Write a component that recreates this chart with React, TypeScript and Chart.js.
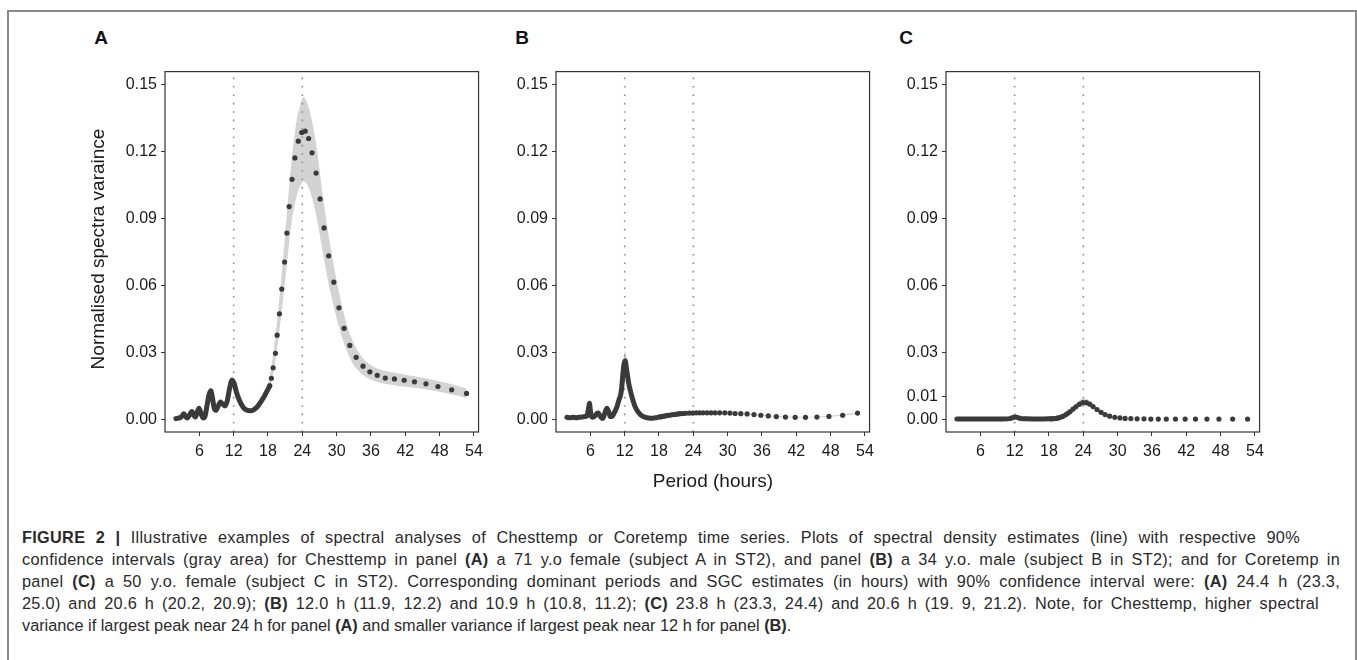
import React, { useEffect, useRef } from "react";
import { Chart, registerables } from "chart.js";

Chart.register(...registerables);

const FONT = "'Liberation Sans', Arial, Helvetica, sans-serif";

// ---- axes ----
const xTicks = [6, 12, 18, 24, 30, 36, 42, 48, 54];
const yTicksAB = [0, 0.03, 0.06, 0.09, 0.12, 0.15];
const yTicksC = [0, 0.01, 0.03, 0.06, 0.09, 0.12, 0.15];
const refLines = [12, 24];
const X_MIN = 0;
const X_MAX = 54.8;
const Y_MIN = -0.0057;
const Y_MAX = 0.1559;

// ---- sparse periods (hours), shared by the three panels ----
const sparsePeriods = [18.3, 18.6, 18.9, 19.3, 19.6, 20.0, 20.4, 20.9, 21.3, 21.7, 22.2, 22.7, 23.3, 23.9, 24.5, 25.1, 25.7, 26.4, 27.1, 27.8, 28.6, 29.5, 30.4, 31.3, 32.3, 33.4, 34.6, 35.8, 37.1, 38.5, 40.1, 41.8, 43.6, 45.6, 47.7, 50.1, 52.7];

// ---- Panel A ----
const denseXA = [1.9, 2.3, 2.7, 3.0, 3.3, 3.6, 3.9, 4.3, 4.7, 5.0, 5.3, 5.6, 5.95, 6.3, 6.7, 7.0, 7.4, 7.7, 8.0, 8.3, 8.6, 8.9, 9.3, 9.7, 10.1, 10.5, 10.9, 11.3, 11.7, 12.1, 12.5, 13.0, 13.5, 14.0, 14.8, 15.5, 16.2, 16.8, 17.4, 17.9, 18.3];
const denseYA = [0.0003, 0.0005, 0.0008, 0.0015, 0.0025, 0.0012, 0.0006, 0.0020, 0.0035, 0.0020, 0.0010, 0.0030, 0.0050, 0.0025, 0.0006, 0.0015, 0.0070, 0.0110, 0.0128, 0.0095, 0.0050, 0.0040, 0.0060, 0.0077, 0.0068, 0.0060, 0.0085, 0.0140, 0.0175, 0.0160, 0.0120, 0.0085, 0.0060, 0.0045, 0.0038, 0.0042, 0.0058, 0.0080, 0.0105, 0.0130, 0.0150];
const sparseA = [0.0150, 0.0184, 0.0231, 0.0296, 0.0377, 0.0473, 0.0584, 0.0705, 0.0835, 0.0954, 0.1076, 0.1172, 0.1247, 0.1286, 0.1292, 0.1259, 0.1195, 0.1104, 0.0988, 0.0858, 0.0733, 0.0615, 0.0500, 0.0408, 0.0331, 0.0278, 0.0238, 0.0213, 0.0197, 0.0185, 0.0181, 0.0175, 0.0168, 0.0159, 0.0147, 0.0132, 0.0116];
const bandXA = [11.0, 11.7, 12.5, 13.5, 14.8, 16.0, 17.0, 18.0, 19.0, 20.0, 21.0, 22.0, 23.0, 23.6, 24.2, 24.8, 25.5, 26.5, 27.5, 28.5, 29.5, 30.5, 31.5, 32.5, 33.5, 35.0, 37.0, 40.0, 45.0, 50.0, 52.7];
const bandLowA = [0.0105, 0.0150, 0.0105, 0.0050, 0.0032, 0.0048, 0.0080, 0.0115, 0.0215, 0.0400, 0.0620, 0.0860, 0.1000, 0.1045, 0.1066, 0.1055, 0.1010, 0.0905, 0.0760, 0.0620, 0.0505, 0.0405, 0.0325, 0.0265, 0.0225, 0.0192, 0.0168, 0.0153, 0.0137, 0.0112, 0.0095];
const bandHighA = [0.0145, 0.0192, 0.0140, 0.0075, 0.0050, 0.0068, 0.0110, 0.0160, 0.0310, 0.0545, 0.0830, 0.1130, 0.1340, 0.1405, 0.1445, 0.1420, 0.1360, 0.1220, 0.1020, 0.0840, 0.0690, 0.0560, 0.0450, 0.0370, 0.0315, 0.0262, 0.0228, 0.0210, 0.0186, 0.0158, 0.0138];

// ---- Panel B ----
const denseXB = [1.9, 2.5, 3.0, 3.5, 4.0, 4.5, 5.0, 5.4, 5.7, 5.85, 6.0, 6.2, 6.4, 6.8, 7.1, 7.4, 7.7, 8.0, 8.2, 8.5, 8.9, 9.2, 9.5, 9.8, 10.1, 10.4, 10.7, 11.0, 11.3, 11.5, 11.7, 11.9, 12.1, 12.3, 12.5, 12.7, 13.0, 13.3, 13.7, 14.2, 14.8, 15.5, 16.2, 16.9, 17.5, 18.0, 18.3];
const denseYB = [0.0009, 0.0007, 0.0009, 0.0007, 0.0009, 0.0010, 0.0012, 0.0015, 0.0050, 0.0072, 0.0040, 0.0012, 0.0009, 0.0015, 0.0025, 0.0028, 0.0015, 0.0005, 0.0004, 0.0025, 0.0050, 0.0035, 0.0012, 0.0012, 0.0025, 0.0040, 0.0060, 0.0087, 0.0110, 0.0145, 0.0206, 0.0250, 0.0262, 0.0231, 0.0197, 0.0162, 0.0128, 0.0098, 0.0065, 0.0038, 0.0020, 0.0010, 0.0006, 0.0005, 0.0007, 0.0010, 0.0011];
const sparseB = [0.0011, 0.0013, 0.0014, 0.0016, 0.0018, 0.0019, 0.0021, 0.0022, 0.0024, 0.0025, 0.0026, 0.0027, 0.0028, 0.0028, 0.0029, 0.0029, 0.0029, 0.0029, 0.0029, 0.0029, 0.0029, 0.0029, 0.0028, 0.0026, 0.0025, 0.0024, 0.0021, 0.0018, 0.0015, 0.0012, 0.0010, 0.0009, 0.0009, 0.0010, 0.0013, 0.0018, 0.0028];
const bandXB = [11.0, 11.5, 11.9, 12.1, 12.4, 12.8, 13.3, 14.0, 16.0, 20.0, 24.0, 30.0, 36.0, 42.0, 48.0, 52.7];
const bandLowB = [0.0075, 0.0125, 0.0215, 0.0228, 0.0195, 0.0140, 0.0085, 0.0040, 0.0005, 0.0017, 0.0025, 0.0025, 0.0015, 0.0007, 0.0011, 0.0024];
const bandHighB = [0.0100, 0.0168, 0.0290, 0.0305, 0.0260, 0.0180, 0.0112, 0.0055, 0.0008, 0.0022, 0.0032, 0.0032, 0.0020, 0.0011, 0.0016, 0.0032];

// ---- Panel C ----
const denseXC = [1.9, 4.0, 6.0, 8.0, 10.0, 11.2, 11.7, 12.1, 12.6, 13.2, 14.0, 16.0, 18.0, 18.3];
const denseYC = [0.0001, 0.0001, 0.0001, 0.0001, 0.0001, 0.0003, 0.0008, 0.0010, 0.0007, 0.0003, 0.0002, 0.0001, 0.0002, 0.0002];
const sparseC = [0.0002, 0.0002, 0.0003, 0.0004, 0.0006, 0.0009, 0.0013, 0.0020, 0.0027, 0.0035, 0.0046, 0.0056, 0.0067, 0.0075, 0.0075, 0.0068, 0.0057, 0.0044, 0.0031, 0.0021, 0.0014, 0.0009, 0.0006, 0.0004, 0.0003, 0.0002, 0.0002, 0.0001, 0.0001, 0.0001, 0.0001, 0.0001, 0.0001, 0.0001, 0.0001, 0.0001, 0.0001];
const bandXC = [20, 21, 22, 23, 24, 25, 26, 27, 28, 29, 30];
const bandLowC = [0.0007, 0.0019, 0.0036, 0.0053, 0.0062, 0.0058, 0.0043, 0.0026, 0.0015, 0.0009, 0.0005];
const bandHighC = [0.0011, 0.0028, 0.0052, 0.0078, 0.0093, 0.0085, 0.0063, 0.0037, 0.0022, 0.0013, 0.0007];

// ---- texts ----
const panelLabels = ["A", "B", "C"];
const yTitle = "Normalised spectra varaince";
const xTitle = "Period (hours)";
type Seg = [string, boolean];
const captionLines: Seg[][] = [
  [["FIGURE 2 |", true], [" Illustrative examples of spectral analyses of Chesttemp or Coretemp time series. Plots of spectral density estimates (line) with respective 90%", false]],
  [["confidence intervals (gray area) for Chesttemp in panel ", false], ["(A)", true], [" a 71 y.o female (subject A in ST2), and panel ", false], ["(B)", true], [" a 34 y.o. male (subject B in ST2); and for Coretemp in", false]],
  [["panel ", false], ["(C)", true], [" a 50 y.o. female (subject C in ST2). Corresponding dominant periods and SGC estimates (in hours) with 90% confidence interval were: ", false], ["(A)", true], [" 24.4 h (23.3,", false]],
  [["25.0) and 20.6 h (20.2, 20.9); ", false], ["(B)", true], [" 12.0 h (11.9, 12.2) and 10.9 h (10.8, 11.2); ", false], ["(C)", true], [" 23.8 h (23.3, 24.4) and 20.6 h (19. 9, 21.2). Note, for Chesttemp, higher spectral", false]],
  [["variance if largest peak near 24 h for panel ", false], ["(A)", true], [" and smaller variance if largest peak near 12 h for panel ", false], ["(B)", true], [".", false]],
];
const captionWidths = [1278, 1318, 1318, 1297, 0];

const pts = (xs: number[], ys: number[]) => xs.map((x, i) => ({ x, y: ys[i] }));

const boxPlugin = {
  id: "panelBox",
  afterDatasetsDraw(chart: any) {
    const { ctx, chartArea: a } = chart;
    ctx.save();
    ctx.strokeStyle = "#333333";
    ctx.lineWidth = 1.2;
    ctx.strokeRect(a.left, a.top, a.right - a.left, a.bottom - a.top);
    ctx.restore();
  },
};

type PanelProps = {
  left: number;
  denseX: number[];
  denseY: number[];
  sparseY: number[];
  bandX: number[];
  bandLow: number[];
  bandHigh: number[];
  yTicks: number[];
};

const CW = 384;
const CH = 414;

function Panel(p: PanelProps) {
  const ref = useRef<HTMLCanvasElement | null>(null);
  useEffect(() => {
    if (!ref.current) return;
    const tickFont = { family: FONT, size: 16 };
    const grid = { display: true, drawOnChartArea: false, drawTicks: true, tickLength: 4, color: "#333333", lineWidth: 1 };
    const chart = new Chart(ref.current, {
      type: "line",
      data: {
        datasets: [
          { data: pts(p.bandX, p.bandHigh), borderWidth: 0, pointRadius: 0, fill: "+1", backgroundColor: "#d3d3d3", cubicInterpolationMode: "monotone", order: 4 } as any,
          { data: pts(p.bandX, p.bandLow), borderWidth: 0, pointRadius: 0, fill: false, cubicInterpolationMode: "monotone", order: 4 } as any,
          ...refLines.map((v) => ({
            data: [{ x: v, y: Y_MIN }, { x: v, y: Y_MAX }],
            borderColor: "#8c8c8c",
            borderWidth: 1.6,
            borderDash: [1.6, 6.8],
            pointRadius: 0,
            fill: false,
            order: 3,
          })),
          { data: pts(p.denseX, p.denseY), borderColor: "#3a3a3a", borderWidth: 5, pointRadius: 0, fill: false, cubicInterpolationMode: "monotone", borderCapStyle: "round", borderJoinStyle: "round", order: 2 } as any,
          { data: pts(sparsePeriods, p.sparseY), showLine: false, pointRadius: 2.6, pointBackgroundColor: "#3a3a3a", pointBorderWidth: 0, fill: false, order: 1 } as any,
        ],
      },
      options: {
        animation: false,
        responsive: false,
        maintainAspectRatio: false,
        events: [],
        layout: { padding: { top: 8, right: 8, left: 0, bottom: 0 } },
        plugins: { legend: { display: false }, tooltip: { enabled: false } },
        scales: {
          x: {
            type: "linear",
            min: X_MIN,
            max: X_MAX,
            afterBuildTicks: (s: any) => { s.ticks = xTicks.map((v) => ({ value: v })); },
            afterFit: (s: any) => { s.height = 40; },
            ticks: { font: tickFont, color: "#1a1a1a", padding: 6, maxRotation: 0, autoSkip: false, callback: (v: any) => String(v) },
            grid,
            border: { display: false },
          },
          y: {
            type: "linear",
            min: Y_MIN,
            max: Y_MAX,
            afterBuildTicks: (s: any) => { s.ticks = p.yTicks.map((v) => ({ value: v })); },
            afterFit: (s: any) => { s.width = 60; },
            ticks: { font: tickFont, color: "#1a1a1a", padding: 4, autoSkip: false, callback: (v: any) => Number(v).toFixed(2) },
            grid,
            border: { display: false },
          },
        },
      } as any,
      plugins: [boxPlugin],
    });
    return () => chart.destroy();
  }, []);
  return (
    <canvas
      ref={ref}
      width={CW}
      height={CH}
      style={{ position: "absolute", left: p.left, top: 58, width: CW, height: CH }}
    />
  );
}

export default function App() {
  const panelLeft = [105, 496, 886];
  const labelX = [101, 522, 906];
  return (
    <div style={{ position: "absolute", left: 0, top: 0, width: 1357, height: 660, overflow: "hidden", background: "#ffffff", fontFamily: FONT }}>
      <div style={{ position: "absolute", left: 7, top: 10, width: 1346, height: 700, border: "2px solid #8a8a8a" }} />
      {panelLabels.map((t, i) => (
        <div key={t} style={{ position: "absolute", left: labelX[i] - 20, top: 27, width: 40, textAlign: "center", fontWeight: 700, fontSize: 19, lineHeight: "22px", color: "#111" }}>{t}</div>
      ))}
      <Panel left={panelLeft[0]} denseX={denseXA} denseY={denseYA} sparseY={sparseA} bandX={bandXA} bandLow={bandLowA} bandHigh={bandHighA} yTicks={yTicksAB} />
      <Panel left={panelLeft[1]} denseX={denseXB} denseY={denseYB} sparseY={sparseB} bandX={bandXB} bandLow={bandLowB} bandHigh={bandHighB} yTicks={yTicksAB} />
      <Panel left={panelLeft[2]} denseX={denseXC} denseY={denseYC} sparseY={sparseC} bandX={bandXC} bandLow={bandLowC} bandHigh={bandHighC} yTicks={yTicksC} />
      <div style={{ position: "absolute", left: 98 - 200, top: 249 - 12, width: 400, height: 24, lineHeight: "24px", textAlign: "center", fontSize: 19, color: "#1a1a1a", transform: "rotate(-90deg)", whiteSpace: "nowrap" }}>{yTitle}</div>
      <div style={{ position: "absolute", left: 713 - 150, top: 481 - 12, width: 300, lineHeight: "24px", textAlign: "center", fontSize: 19, color: "#1a1a1a", whiteSpace: "nowrap" }}>{xTitle}</div>
      {captionLines.map((line, i) => (
        <div
          key={i}
          style={{
            position: "absolute",
            left: 22,
            top: 537 + i * 22 - 11,
            width: captionWidths[i] || undefined,
            lineHeight: "22px",
            fontSize: 16.3,
            letterSpacing: captionWidths[i] ? "0.3px" : "0px",
            color: "#2a2a2a",
            textAlign: captionWidths[i] ? "justify" : "left",
            textAlignLast: captionWidths[i] ? "justify" : "auto",
            whiteSpace: captionWidths[i] ? "normal" : "nowrap",
          } as any}
        >
          {line.map((s, j) => (
            <span key={j} style={{ fontWeight: s[1] ? 700 : 400 }}>{s[0]}</span>
          ))}
        </div>
      ))}
    </div>
  );
}
